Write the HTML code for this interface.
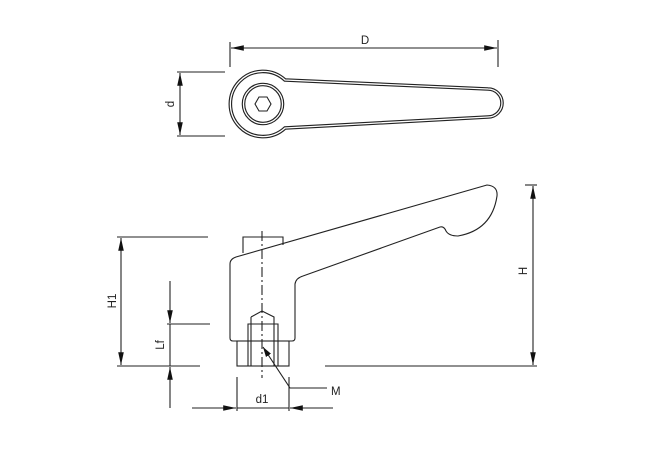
<!DOCTYPE html>
<html><head><meta charset="utf-8"><style>
html,body{margin:0;padding:0;background:#fff;}
svg{display:block;}
text{font-family:"Liberation Sans",sans-serif;font-size:11.5px;fill:#222;}
</style></head><body>
<svg width="650" height="450" viewBox="0 0 650 450" xmlns="http://www.w3.org/2000/svg">
<defs>
<marker id="a" viewBox="0 0 10 10" refX="10" refY="5" markerWidth="10" markerHeight="10" orient="auto-start-reverse" markerUnits="userSpaceOnUse"><path d="M0,2 L10,5 L0,8 z" fill="#111"/></marker>
<marker id="b" viewBox="0 0 16 10" refX="16" refY="5" markerWidth="16" markerHeight="8" orient="auto-start-reverse" markerUnits="userSpaceOnUse"><path d="M0,1.5 L16,5 L0,8.5 z" fill="#111"/></marker>
</defs>
<g stroke="#222" fill="none" stroke-width="1.1">
<!-- top view -->
<line x1="230" y1="42" x2="230" y2="67"/>
<line x1="498" y1="40" x2="498" y2="67"/>
<line x1="231" y1="48" x2="497" y2="48" marker-start="url(#b)" marker-end="url(#b)"/>
<line x1="177" y1="72" x2="225" y2="72"/>
<line x1="177" y1="136" x2="225" y2="136"/>
<line x1="180" y1="73" x2="180" y2="135" marker-start="url(#b)" marker-end="url(#b)"/>
<path d="M285,80 L488,89 A14,14 0 0 1 488,117 L285,128 A32.6,32.6 0 1 1 285,80 Z" stroke-width="3.6"/>
<path d="M285,80 L488,89 A14,14 0 0 1 488,117 L285,128 A32.6,32.6 0 1 1 285,80 Z" stroke="#fff" stroke-width="1.3"/>
<circle cx="263" cy="104" r="19.5" stroke-width="3.6"/>
<circle cx="263" cy="104" r="19.5" stroke="#fff" stroke-width="1.3"/>
<polygon points="271,104 267,97 259,97 255,104 259,111 267,111"/>
<!-- side view -->
<path d="M487,185 L236,257 Q230,259 230,264 L230,338 Q230,341 233,341 L292,341 Q295,341 295,338 L295,284 Q296,278 303,276 L440,227 Q444,226 446,231 Q449,236 458,236 Q492,230 497,196 Q498,186 487,185 Z"/>
<path d="M243,253 L243,237 L283,237 L283,245"/>
<rect x="237" y="341" width="52" height="25"/>
<path d="M248,366 L248,324 L278,324 L278,366 M251,366 L251,324 M274,366 L274,324"/>
<path d="M251,317 L262,311 L274,317 L274,324 M251,317 L251,324"/>
<line x1="262" y1="231" x2="262" y2="378" stroke-dasharray="10,3,2,3"/>
<!-- H1 -->
<line x1="117" y1="237" x2="208" y2="237"/>
<line x1="117" y1="366" x2="200" y2="366"/>
<line x1="121" y1="238" x2="121" y2="365" marker-start="url(#b)" marker-end="url(#b)"/>
<!-- Lf -->
<line x1="167" y1="324" x2="210" y2="324"/>
<line x1="170" y1="281" x2="170" y2="323" marker-end="url(#b)"/>
<line x1="170" y1="408" x2="170" y2="367" marker-end="url(#b)"/>
<line x1="170" y1="324" x2="170" y2="366"/>
<!-- H -->
<line x1="525" y1="185" x2="537" y2="185"/>
<line x1="325" y1="366" x2="537" y2="366"/>
<line x1="533" y1="186" x2="533" y2="365" marker-start="url(#b)" marker-end="url(#b)"/>
<!-- d1 -->
<line x1="237" y1="377" x2="237" y2="411"/>
<line x1="289" y1="377" x2="289" y2="411"/>
<line x1="192" y1="408" x2="236" y2="408" marker-end="url(#b)"/>
<line x1="333" y1="408" x2="290" y2="408" marker-end="url(#b)"/>
<line x1="237" y1="408" x2="289" y2="408"/>
<!-- M -->
<polyline points="327,388 290,388 263,347" marker-end="url(#a)"/>
</g>
<text x="365" y="44" text-anchor="middle">D</text>
<text transform="translate(174,104) rotate(-90)" text-anchor="middle">d</text>
<text transform="translate(116,301) rotate(-90)" text-anchor="middle">H1</text>
<text transform="translate(164,345) rotate(-90)" text-anchor="middle">Lf</text>
<text transform="translate(527,271) rotate(-90)" text-anchor="middle">H</text>
<text x="262" y="403" text-anchor="middle">d1</text>
<text x="331" y="395">M</text>
</svg>
</body></html>
